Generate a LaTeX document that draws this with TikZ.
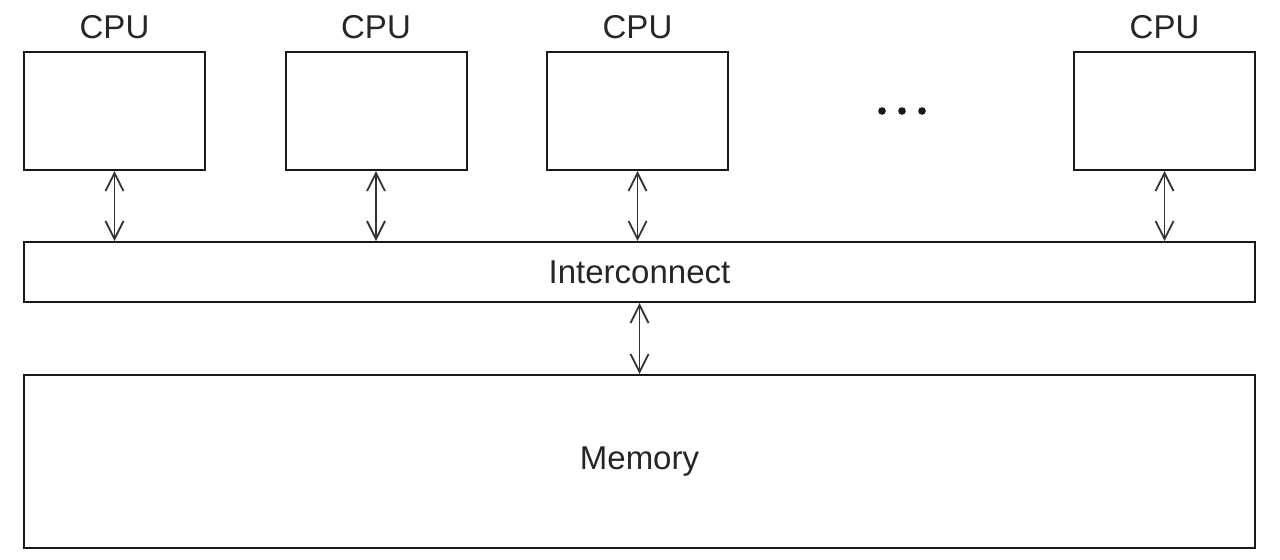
\documentclass[tikz,border=0pt]{standalone}
\usepackage{fontspec}
\setmainfont{Liberation Sans}
\usetikzlibrary{arrows.meta,positioning,calc}
\tikzstyle{cpu}       = [draw=black!90,line width=1pt,minimum width=90.5pt,minimum height=59pt,inner sep=0pt]
\tikzstyle{bus}       = [draw=black!90,line width=1pt,minimum width=615.5pt,minimum height=30pt,inner sep=0pt]
\tikzstyle{mem}       = [draw=black!90,line width=1pt,minimum width=615.5pt,minimum height=86.5pt,inner sep=0pt]
\tikzstyle{label}     = [font=\fontsize{16.5pt}{18pt}\selectfont,text=black!85,inner sep=0pt]
\tikzstyle{link}      = [line width=0.9pt,draw=black!80,arrows={Straight Barb[length=9pt,width=9pt]-Straight Barb[length=9pt,width=9pt]}]

\begin{document}
\begin{tikzpicture}[x=0.5pt,y=-0.5pt]
                  \useasboundingbox (0,0) rectangle (1280,559);
                  \node (c1)[cpu] at (114.5,111) {};
                  \node (c2)[cpu] at (376,111) {};
                  \node (c3)[cpu] at (637.5,111) {};
                  \node (c4)[cpu] at (1164.5,111) {};
                  \node (l1)[label] at (114.5,27) {CPU};
                  \node (l2)[label] at (376,27) {CPU};
                  \node (l3)[label] at (637.5,27) {CPU};
                  \node (l4)[label] at (1164.5,27) {CPU};

                  \node (ic)[bus] at (639.5,272) {};
                  \node (ict)[label] at (639.5,272) {Interconnect};
                  \node (mem)[mem] at (639.5,461.5) {};
                  \node (memt)[label] at (639.5,461.5) {Memory};

                  % dots between the third and last cpu
                  \fill[black!90] (882,111) circle (3.8);
                  \fill[black!90] (902,111) circle (3.8);
                  \fill[black!90] (922,111) circle (3.8);

                  \draw[link] (c1.south) -- (c1.south |- ic.north);
                  \draw[link] (c2.south) -- (c2.south |- ic.north);
                  \draw[link] (c3.south) -- (c3.south |- ic.north);
                  \draw[link] (c4.south) -- (c4.south |- ic.north);
                  \draw[link] (ic.south) -- (mem.north);
            \end{tikzpicture}
\end{document}
